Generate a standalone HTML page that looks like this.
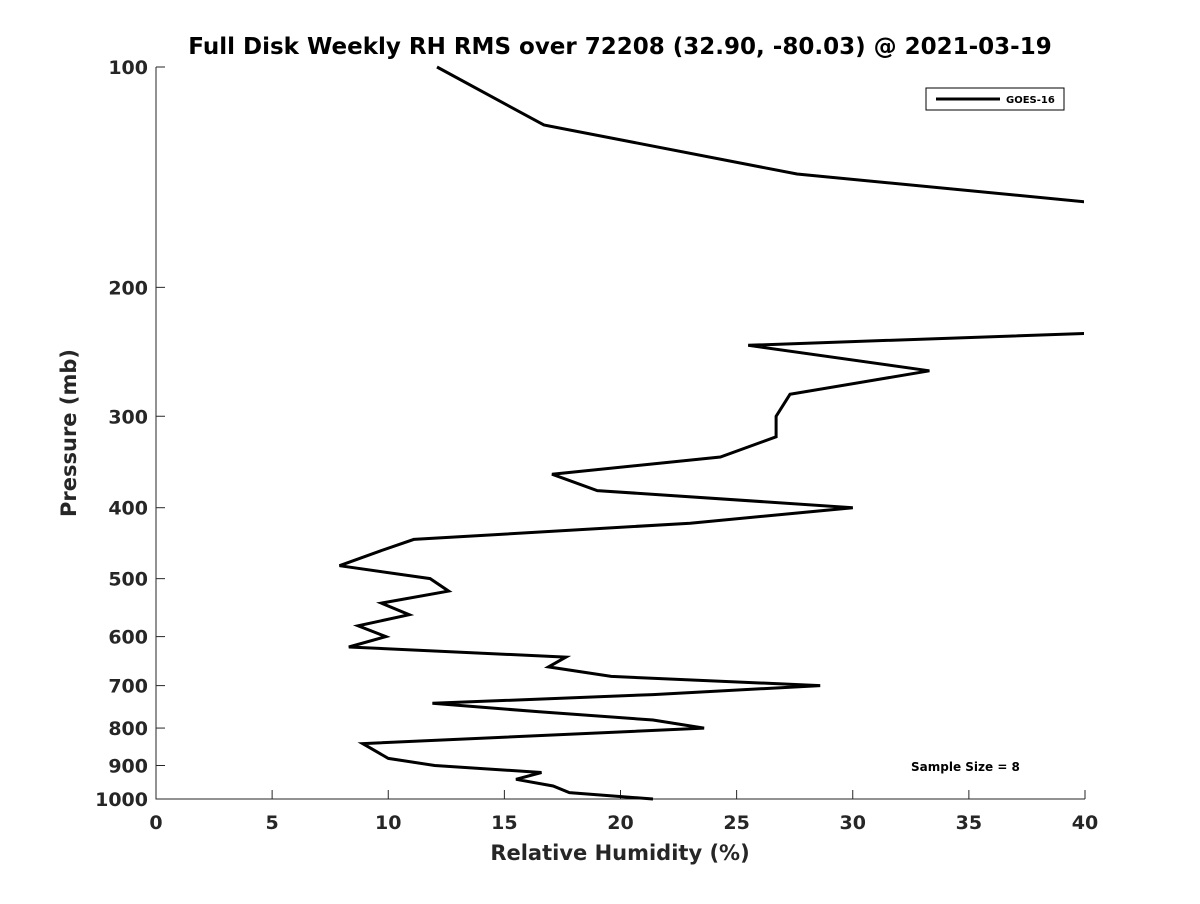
<!DOCTYPE html>
<html><head><meta charset="utf-8"><style>
body{margin:0;background:#fff;font-family:"DejaVu Sans",sans-serif}
</style></head><body>
<svg width="1200" height="900" style="font-family:'DejaVu Sans','Liberation Sans',sans-serif">
<rect width="1200" height="900" fill="#fff"/>
<text x="620" y="54" text-anchor="middle" font-size="23" font-weight="bold">Full Disk Weekly RH RMS over 72208 (32.90, -80.03) @ 2021-03-19</text>
<defs><clipPath id="pc"><rect x="156" y="60" width="928" height="745"/></clipPath></defs>
<g id="axes"></g>
<g clip-path="url(#pc)"><path id="series" fill="none" stroke="#000" stroke-width="3"/></g>
<text x="620" y="860" text-anchor="middle" font-size="21" font-weight="bold" fill="#262626">Relative Humidity (%)</text>
<text transform="translate(76,433) rotate(-90)" text-anchor="middle" font-size="21" font-weight="bold" fill="#262626">Pressure (mb)</text>
<g>
<rect x="926" y="88" width="138" height="22" fill="#fff" stroke="#000" stroke-width="1"/>
<line x1="936" y1="99" x2="1000" y2="99" stroke="#000" stroke-width="3"/>
<text x="1006" y="103" font-size="10" font-weight="bold">GOES-16</text>
</g>
<text x="911" y="771" font-size="12" font-weight="bold">Sample Size = 8</text>
</svg>
<script>
const pressures=[100,120,140,155,200,230,240,260,280,300,320,341,360,379,400,420,442,459,480,500,520,540,560,580,600,620,640,660,680,700,720,740,760,780,800,840,880,900,920,940,960,980,1000];
const rhValues=[12.1,16.7,27.6,42.0,80.0,42.0,25.5,33.3,27.3,26.7,26.7,24.3,17.05,19.0,30.0,23.0,11.1,9.6,7.9,11.8,12.6,9.7,10.9,8.7,9.9,8.3,17.65,16.9,19.6,28.6,21.4,11.9,16.5,21.4,23.6,8.9,10.0,12.0,16.6,15.5,17.1,17.8,21.4];
const xTicks=[0,5,10,15,20,25,30,35,40];
const yTicks=[100,200,300,400,500,600,700,800,900,1000];
const X0=156,X1=1085,Y0=67,Y1=799;
const xs=v=>X0+(v-0)/40*(X1-X0);
const ys=p=>Y0+Math.log10(p/100)*(Y1-Y0);
const NS="http://www.w3.org/2000/svg";
const g=document.getElementById('axes');
function mk(t,a){const e=document.createElementNS(NS,t);for(const k in a)e.setAttribute(k,a[k]);g.appendChild(e);return e;}
const ax=mk('path',{d:`M${X0},${Y0}V${Y1}H${X1}`,fill:'none',stroke:'#262626','stroke-width':1});


xTicks.forEach(v=>{const x=xs(v);
const l=mk('line',{x1:x,x2:x,y1:Y1,y2:Y1-9,stroke:'#262626'});


const t=mk('text',{x:x,y:Y1+30,'text-anchor':'middle','font-size':19,'font-weight':'bold',fill:'#262626'});t.textContent=v;

});
yTicks.forEach(p=>{const y=ys(p);
const l=mk('line',{x1:X0,x2:X0+9,y1:y,y2:y,stroke:'#262626'});


const t=mk('text',{x:X0-8,y:y+7,'text-anchor':'end','font-size':19,'font-weight':'bold',fill:'#262626'});t.textContent=p;

});
document.getElementById('series').setAttribute('d',pressures.map((p,i)=>(i?'L':'M')+xs(rhValues[i]).toFixed(1)+','+ys(p).toFixed(1)).join(''));
</script>
</body></html>
